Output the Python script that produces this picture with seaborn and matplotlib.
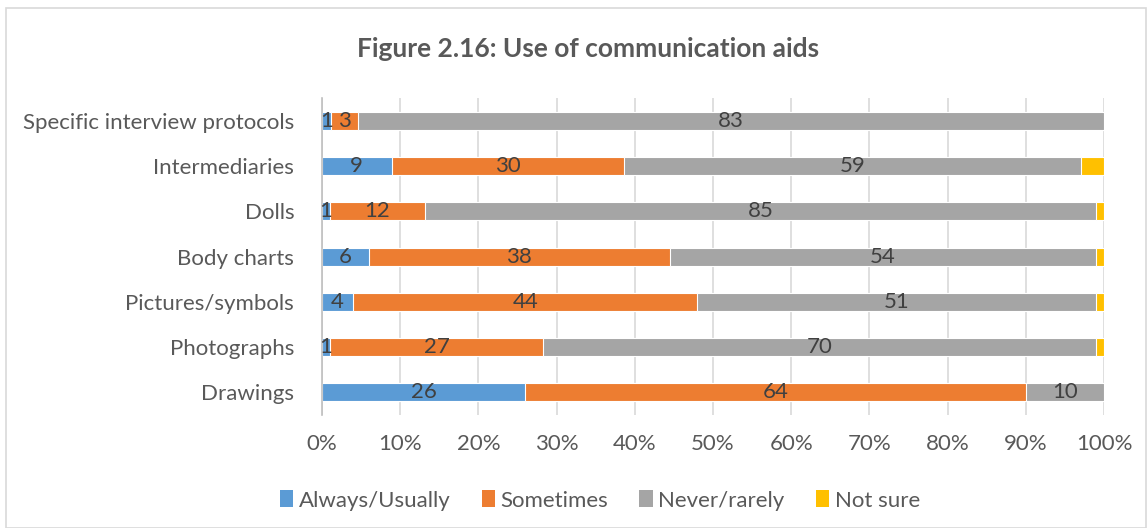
import matplotlib
matplotlib.use('Agg')
import numpy as np
import pandas as pd
import matplotlib.pyplot as plt
import seaborn as sns
from matplotlib.patches import Rectangle, Patch
from matplotlib.ticker import PercentFormatter

aids = ['Specific interview protocols', 'Intermediaries', 'Dolls', 'Body charts',
        'Pictures/symbols', 'Photographs', 'Drawings']
always = [1, 9, 1, 6, 4, 1, 26]
sometimes = [3, 30, 12, 38, 44, 27, 64]
never = [83, 59, 85, 54, 51, 70, 10]
not_sure = [0, 3, 1, 1, 1, 1, 0]

series = ['Always/Usually', 'Sometimes', 'Never/rarely', 'Not sure']
colours = ['#5B9BD5', '#ED7D31', '#A5A5A5', '#FFC000']

sns.set_style('white')
plt.rcParams['font.family'] = ['Lato', 'DejaVu Sans']

counts = pd.DataFrame({'Always/Usually': always, 'Sometimes': sometimes,
                       'Never/rarely': never, 'Not sure': not_sure}, index=aids)
pct = counts.div(counts.sum(axis=1), axis=0) * 100
cum = pct.cumsum(axis=1)

fig = plt.figure(figsize=(11.47, 5.28), dpi=100)
ax = fig.add_axes([0.2807, 0.214, 0.9625 - 0.2807, 0.814 - 0.214])

# stacked bars: draw the cumulative totals from the outside in
for name, col in reversed(list(zip(series, colours))):
    df = pd.DataFrame({'aid': aids, 'val': cum[name].values})
    sns.barplot(data=df, x='val', y='aid', color=col, orient='h', width=0.4,
                saturation=1, edgecolor='white', linewidth=0.8, ax=ax, zorder=2)

# labels in the middle of each segment (not for Not sure)
for i, aid in enumerate(aids):
    for name in series[:3]:
        v = counts.loc[aid, name]
        if v == 0:
            continue
        mid = cum.loc[aid, name] - pct.loc[aid, name] / 2
        ax.text(mid, i, str(v), ha='center', va='center', fontsize=16,
                color='#404040', zorder=3)

ax.set_xlim(0, 100)
ax.set_ylim(6.5, -0.5)
ax.xaxis.set_major_formatter(PercentFormatter(decimals=0))
ax.set_xticks(np.arange(0, 101, 10))
ax.grid(axis='x', color='#D9D9D9', linewidth=1.2, zorder=0)
ax.set_axisbelow(True)
for s in ['top', 'right', 'bottom']:
    ax.spines[s].set_visible(False)
ax.spines['left'].set_color('#BFBFBF')
ax.spines['left'].set_linewidth(1.2)
ax.tick_params(axis='both', length=0, labelsize=16, labelcolor='#595959')
ax.tick_params(axis='x', pad=14)
ax.tick_params(axis='y', pad=20)
ax.set_xlabel('')
ax.set_ylabel('')

fig.text(0.513, 0.908, 'Figure 2.16: Use of communication aids', ha='center', va='center',
         fontsize=19, fontweight='bold', color='#595959')

handles = [Patch(facecolor=c, edgecolor='none') for c in colours]
fig.legend(handles, series, loc='center', bbox_to_anchor=(0.523, 0.052), ncol=4,
           frameon=False, fontsize=16, handlelength=0.6, handleheight=0.8,
           handletextpad=0.25, columnspacing=1.4, labelcolor='#595959')

fig.patches.append(Rectangle((0.005, 0.0), 0.994, 0.985, transform=fig.transFigure,
                             fill=False, edgecolor='#D9D9D9', linewidth=1.2))

fig.savefig('out.png', dpi=100)
